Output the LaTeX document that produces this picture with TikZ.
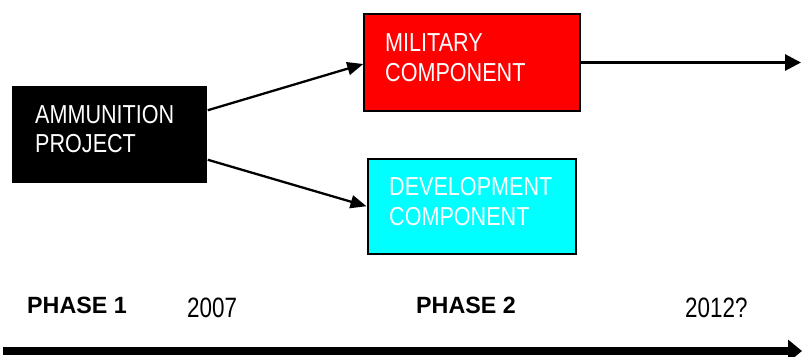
\documentclass[tikz,border=0pt]{standalone}
\usepackage{fontspec}
\setmainfont{Liberation Sans}
\newfontfamily\boxfont[FakeStretch=0.83]{Liberation Sans}
\newfontfamily\phasefont[FakeStretch=0.99]{Liberation Sans}
\newfontfamily\yearfont[FakeStretch=0.8]{Liberation Sans}
\usetikzlibrary{arrows.meta,calc}
\definecolor{boxred}{RGB}{255,0,0}
\definecolor{boxcyan}{RGB}{0,255,255}
\tikzset{
  box/.style={rectangle, draw=black, line width=1.5pt, inner sep=0pt},
  boxtext/.style={anchor=base west, inner sep=0pt, align=left, text=white,
    font=\boxfont\fontsize{26}{30}\selectfont},
  phase/.style={anchor=base west, inner sep=0pt, font=\phasefont\bfseries\fontsize{23.5}{28}\selectfont},
  year/.style={anchor=base west, inner sep=0pt, font=\yearfont\fontsize{28}{32}\selectfont},
  link/.style={line width=2.3pt, -{Triangle[length=16pt,width=13pt]}},
  flow/.style={line width=3pt, -{Triangle[length=16pt,width=16pt]}},
  timeline/.style={line width=8pt, -{Triangle[length=14pt,width=22pt]}}
}
\begin{document}
\begin{tikzpicture}[x=1pt,y=-1pt]
\useasboundingbox (0,0) rectangle (802,356);
% boxes
\node[box, fill=black, draw=none, minimum width=195pt, minimum height=97pt] (ammo) at (109.5,134.5) {};
\node[box, fill=boxred, minimum width=216pt, minimum height=97pt] (mil) at (472,62.5) {};
\node[box, fill=boxcyan, line width=2pt, minimum width=208.5pt, minimum height=95.5pt] (dev) at (471.75,206.25) {};
% box texts
\node[boxtext, font=\boxfont\fontsize{26}{29}\selectfont] (ammotext) at (35,152) {AMMUNITION\\PROJECT};
\node[boxtext] (miltext) at (385,81) {MILITARY\\COMPONENT};
\node[boxtext] (devtext) at (389,225) {DEVELOPMENT\\COMPONENT};
% connectors
\draw[link] ([yshift=-25pt]ammo.north east) -- ([yshift=-1.5pt]mil.west);
\draw[link] ([yshift=24pt]ammo.south east) -- (dev.west);
\coordinate (flowend) at (801,62.5);
\draw[flow] (mil.east) -- (flowend);
% timeline
\coordinate (tlstart) at (3,351);
\coordinate (tlend) at (802,351);
\draw[timeline] (tlstart) -- (tlend);
\node[phase] (p1) at (27,313) {PHASE 1};
\node[year] (y1) at (187,317) {2007};
\node[phase] (p2) at (416,313) {PHASE 2};
\node[year] (y2) at (685,317) {2012?};
\end{tikzpicture}
\end{document}
